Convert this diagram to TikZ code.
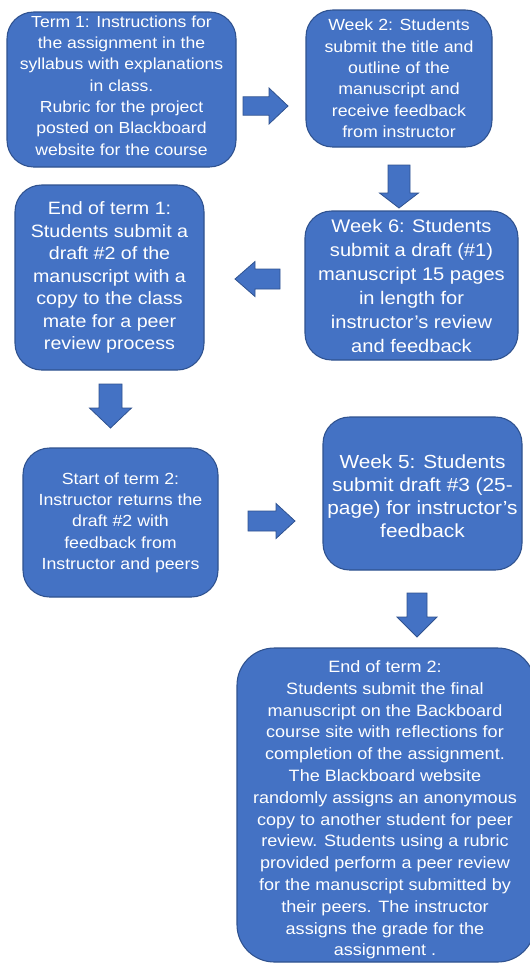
\documentclass[tikz,border=0pt]{standalone}
\usepackage{fontspec}
\setmainfont[FakeStretch=1.1]{Liberation Sans}
\newcommand\fz[2]{\fontsize{#1}{#2}\selectfont}
\definecolor{boxblue}{HTML}{4472C4}
\definecolor{edgeblue}{HTML}{2F528F}
\tikzset{
  box/.style={draw=edgeblue, line width=0.8pt, fill=boxblue, rounded corners=20pt,
    text=white, align=center, inner sep=2pt},
  boxtext/.style={text=white, align=center, inner sep=0pt},
  arrowfill/.style={draw=edgeblue, line width=0.6pt, fill=boxblue}
}
% #1 x start, #2 y start, #3 rotation, #4 length, #5 shaft half, #6 head half, #7 head length
\newcommand\barrow[7]{%
  \begin{scope}[shift={(#1,#2)},rotate=#3]
    \filldraw[arrowfill] (0,-#5) -- ({#4-#7},-#5) -- ({#4-#7},-#6) -- (#4,0)
      -- ({#4-#7},#6) -- ({#4-#7},#5) -- (0,#5) -- cycle;
  \end{scope}}
\begin{document}
\begin{tikzpicture}[x=0.75pt,y=-0.75pt]
\useasboundingbox (0,0) rectangle (530,965);
\clip (0,0) rectangle (530,965);

\node[box, minimum width=171.75pt, minimum height=116.25pt] (b1) at (121.5,89.5) {};
\node[boxtext, font=\fz{12}{16}] (t1) at (121.5,85.5)
 {Term 1:  Instructions for\\ the assignment in the\\ syllabus with explanations\\ in class.\\ Rubric for the  project\\ posted on Blackboard\\ website for the course};

\node[box, minimum width=139.5pt, minimum height=102.75pt, font=\fz{12.1}{16}] (b2) at (399,78.5)
 {Week 2:  Students\\ submit the title and\\ outline of the\\ manuscript  and\\ receive feedback\\ from instructor};

\node[box, minimum width=141.75pt, minimum height=138.75pt, font=\fz{13.4}{16.9}] (b3) at (109.5,277.5)
 {End of term 1:\\ Students submit a\\ draft \#2 of the\\ manuscript  with a\\ copy to the class\\ mate for a peer\\ review process};

\node[box, minimum width=159.75pt, minimum height=111.75pt, font=\fz{13.7}{18}] (b4) at (411.5,285.5)
 {Week 6:  Students\\ submit a draft (\#1)\\ manuscript 15 pages\\ in length for\\ instructor’s review\\ and feedback};

\node[box, minimum width=146.25pt, minimum height=111.75pt, font=\fz{12.1}{16}] (b5) at (120.5,522.5)
 {Start of term 2:\\ Instructor returns the\\ draft \#2 with\\ feedback from\\ Instructor and peers};

\node[box, minimum width=149.25pt, minimum height=114.75pt] (b6) at (422.5,493.5) {};
\node[boxtext, font=\fz{14.2}{17.25}] (t6) at (422.5,496.5)
 {Week 5:  Students\\ submit draft \#3 (25-\\ page) for instructor’s\\ feedback};

\node[box, rounded corners=28pt, minimum width=223.5pt, minimum height=235.5pt] (b7) at (386,805) {};
\node[boxtext, font=\fz{12.3}{16.35}] (t7) at (385,810)
 {End of term 2:\\ Students submit the final\\ manuscript on the Backboard\\ course site with reflections for\\ completion of the assignment.\\ The Blackboard website\\ randomly assigns an anonymous\\ copy to another student for peer\\ review.  Students using a rubric\\ provided perform a peer review\\ for the manuscript submitted by\\ their peers.  The instructor\\ assigns the grade for the\\ assignment .};

% block arrows
\barrow{243}{106}{0}{45}{9.2}{18}{19}
\barrow{399}{165}{-90}{43}{11}{19.5}{15}
\barrow{280}{279}{180}{45}{10}{17.5}{20}
\barrow{110.5}{384}{-90}{44}{11.5}{21}{20}
\barrow{248}{521}{0}{47}{10}{17.5}{19}
\barrow{417}{593}{-90}{44}{10}{20}{20}
\end{tikzpicture}
\end{document}
